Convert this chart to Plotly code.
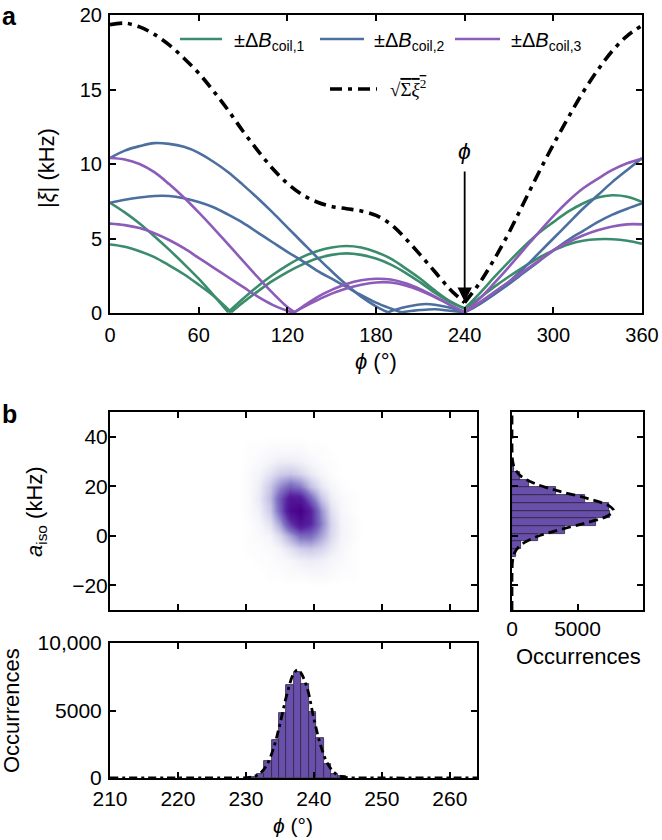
import plotly.graph_objects as go

# ---------------- Panel a data ----------------
GA_PHI = [0, 10, 20, 30, 40, 50, 60, 70, 80, None,
          80, 90, 100, 110, 120, 130, 140, 150, 160, 170, 180, 190, 200, 210, 220, 230, 240, None,
          240, 250, 260, 270, 280, 290, 300, 310, 320, 330, 340, 350, 360]
GA_VAL = [7.4, 6.75, 6.0, 5.15, 4.25, 3.3, 2.3, 1.2, 0.05, None,
          0.05, 0.95, 1.8, 2.55, 3.2, 3.75, 4.15, 4.4, 4.5, 4.4, 4.1, 3.65, 3.0, 2.3, 1.5, 0.8, 0.3, None,
          0.3, 1.3, 2.4, 3.45, 4.45, 5.35, 6.1, 6.8, 7.35, 7.75, 7.9, 7.8, 7.45]

GB_PHI = [0, 10, 20, 30, 40, 50, 60, 70, 82, None,
          82, 90, 100, 110, 120, 130, 140, 150, 160, 170, 180, 190, 200, 210, 220, 230, 240, None,
          240, 250, 260, 270, 280, 290, 300, 310, 320, 330, 340, 350, 360]
GB_VAL = [4.6, 4.45, 4.15, 3.75, 3.2, 2.6, 1.9, 1.15, 0.05, None,
          0.05, 0.7, 1.45, 2.15, 2.75, 3.25, 3.65, 3.9, 4.0, 3.9, 3.65, 3.25, 2.7, 2.05, 1.35, 0.75, 0.3, None,
          0.3, 1.0, 1.75, 2.45, 3.1, 3.7, 4.2, 4.6, 4.85, 4.95, 4.95, 4.85, 4.65]

B1_PHI = [0, 10, 20, 30, 40, 50, 60, 70, 80, 90, 100, 110, 120, 130, 140, 150, 160, 170, 180, 188, None,
          188, 200, 214, 228, 240, None,
          240, 250, 260, 270, 280, 290, 300, 310, 320, 330, 340, 350, 360]
B1_VAL = [10.4, 10.9, 11.2, 11.4, 11.35, 11.15, 10.75, 10.15, 9.45, 8.6, 7.7, 6.75, 5.75, 4.75, 3.75, 2.8, 1.9, 1.1, 0.45, 0.05, None,
          0.05, 0.4, 0.6, 0.4, 0.05, None,
          0.05, 0.6, 1.3, 2.1, 3.0, 4.0, 5.0, 6.0, 7.0, 7.9, 8.8, 9.6, 10.4]

B2_PHI = [0, 10, 20, 30, 40, 50, 60, 70, 80, 90, 100, 110, 120, 130, 140, 150, 160, 170, 180, 190, 197, None,
          197, 210, 220, 230, 240, None,
          240, 250, 260, 270, 280, 290, 300, 310, 320, 330, 340, 350, 360]
B2_VAL = [7.4, 7.6, 7.75, 7.85, 7.85, 7.7, 7.45, 7.1, 6.6, 6.05, 5.4, 4.75, 4.1, 3.5, 2.85, 2.3, 1.75, 1.2, 0.7, 0.3, 0.05, None,
          0.05, 0.2, 0.25, 0.15, 0.05, None,
          0.05, 0.6, 1.25, 1.95, 2.7, 3.45, 4.2, 4.9, 5.5, 6.1, 6.6, 7.0, 7.35]

P1_PHI = [0, 10, 20, 30, 40, 50, 60, 70, 80, 90, 100, 110, 120, 125, None,
          125, 130, 140, 150, 160, 170, 180, 190, 200, 210, 220, 230, 240, None,
          240, 250, 260, 270, 280, 290, 300, 310, 320, 330, 340, 350, 360]
P1_VAL = [10.4, 10.3, 10.0, 9.45, 8.65, 7.75, 6.75, 5.7, 4.6, 3.5, 2.4, 1.35, 0.4, 0.05, None,
          0.05, 0.4, 1.05, 1.55, 1.95, 2.2, 2.3, 2.25, 2.0, 1.6, 1.1, 0.55, 0.05, None,
          0.05, 0.95, 2.0, 3.1, 4.25, 5.4, 6.5, 7.5, 8.35, 9.0, 9.6, 10.05, 10.35]

P2_PHI = [0, 10, 20, 30, 40, 50, 60, 70, 80, 90, 100, 110, 120, 124, None,
          124, 130, 140, 150, 160, 170, 180, 190, 200, 210, 220, 230, 240, None,
          240, 250, 260, 270, 280, 290, 300, 310, 320, 330, 340, 350, 360]
P2_VAL = [6.0, 5.9, 5.7, 5.35, 4.9, 4.35, 3.7, 3.05, 2.4, 1.75, 1.1, 0.55, 0.15, 0.02, None,
          0.02, 0.35, 0.85, 1.3, 1.65, 1.9, 2.05, 2.05, 1.85, 1.5, 1.05, 0.55, 0.05, None,
          0.05, 0.7, 1.4, 2.1, 2.8, 3.5, 4.2, 4.75, 5.2, 5.55, 5.8, 5.95, 5.95]

TOT_PHI = [0, 10, 20, 30, 40, 50, 60, 70, 80, 90, 100, 110, 120, 130, 140, 150, 160, 170, 180,
           190, 200, 210, 220, 230, 240, None,
           240, 250, 260, 270, 280, 290, 300, 310, 320, 330, 340, 350, 360]
TOT_VAL = [19.35, 19.45, 19.2, 18.7, 18.0, 17.1, 16.1, 14.9, 13.6, 12.2, 10.9, 9.7, 8.7, 7.95, 7.45, 7.15, 7.0, 6.85, 6.55,
           5.95, 5.0, 3.9, 2.75, 1.6, 0.7, None,
           0.7, 2.0, 3.6, 5.4, 7.4, 9.4, 11.3, 13.1, 14.8, 16.3, 17.6, 18.6, 19.3]

A_XTICKS = [0, 60, 120, 180, 240, 300, 360]
A_YTICKS = [0, 5, 10, 15, 20]
ARROW_PHI = 240

# ---------------- Panel b data ----------------
HM_PHI = [229, 230.5, 232, 233.5, 235, 236.5, 238, 239.5, 241, 242.5, 244, 245.5, 247]
HM_AISO = [-20, -15, -10, -5, 0, 5, 10, 15, 20, 25, 30, 35, 40]
HM_Z = [
    [0, 0, 0, 0, 0, 0, 0, 0, 0, 0, 0, 0, 0],
    [0, 0, 0, 1, 1, 2, 2, 3, 3, 2, 1, 1, 0],
    [0, 0, 1, 1, 2, 3, 5, 6, 5, 3, 2, 1, 0],
    [0, 1, 1, 2, 4, 9, 15, 17, 13, 7, 3, 1, 0],
    [0, 1, 2, 4, 12, 27, 43, 43, 27, 12, 4, 2, 0],
    [0, 1, 3, 9, 28, 61, 85, 71, 37, 13, 4, 2, 0],
    [0, 2, 5, 16, 47, 89, 100, 73, 32, 10, 3, 1, 0],
    [0, 2, 7, 20, 50, 81, 79, 47, 18, 6, 2, 1, 0],
    [0, 2, 6, 17, 34, 46, 38, 20, 8, 3, 1, 0, 0],
    [0, 2, 4, 9, 15, 17, 13, 7, 3, 1, 0, 0, 0],
    [0, 1, 2, 4, 6, 6, 5, 3, 1, 1, 0, 0, 0],
    [0, 1, 1, 2, 2, 2, 2, 1, 1, 0, 0, 0, 0],
    [0, 0, 0, 0, 0, 0, 0, 0, 0, 0, 0, 0, 0],
]

PHI_BIN_CENTERS = [231.05, 232.15, 233.24, 234.33, 235.42, 236.51, 237.6, 238.69, 239.78, 240.87, 241.96, 243.05, 244.14]
PHI_COUNTS = [80, 330, 1240, 2840, 4810, 6860, 7850, 6990, 4880, 3000, 1050, 330, 120]
PHI_BIN_WIDTH = 1.09
PHI_FIT_X = [210, 226, 228, 230, 231, 232, 233, 234, 235, 236, 237, 237.6, 238, 239, 240, 241, 242, 243, 244, 245, 246, 248, 264]
PHI_FIT_Y = [0, 0, 2, 21, 89, 313, 900, 2100, 3980, 6140, 7710, 8000, 7870, 6680, 4400, 2400, 1080, 395, 116, 28, 5, 0, 0]

AISO_BIN_CENTERS = [-6.85, -3.75, -0.65, 2.45, 5.55, 8.65, 11.75, 14.85, 17.95, 21.05, 24.15, 27.25]
AISO_COUNTS = [300, 700, 2000, 4050, 6400, 7450, 7400, 5550, 3340, 1300, 600, 150]
AISO_BIN_WIDTH = 3.1
AISO_FIT_Y = [-30, -20, -15, -10, -7, -4, -1, 2, 5, 8, 10.2, 12, 15, 18, 21, 24, 27, 30, 35, 40, 50]
AISO_FIT_X = [0, 0, 3, 45, 186, 612, 1600, 3320, 5520, 7290, 7750, 7440, 5800, 3600, 1780, 700, 222, 56, 3, 0, 0]

B_PHI_TICKS = [210, 220, 230, 240, 250, 260]
B_AISO_TICKS = [-20, 0, 20, 40]
OCC_TICKS = [0, 5000, 10000]
OCC_TICKTEXT = ["0", "5000", "10,000"]

# ---------------- styling ----------------
W, H = 662, 840
FONT = "Liberation Sans, Arial, Helvetica, sans-serif"
GREEN = "#3b8c6c"
BLUE = "#4c6fa0"
PURPLE = "#8c5cb8"
BAR = "rgb(104,80,170)"
DASHDOT = "12px,6px,4px,6px"


def px_x(p):
    return p / W


def px_y(p):
    return 1 - p / H


fig = go.Figure()

for xs, ys, col in [(GA_PHI, GA_VAL, GREEN), (GB_PHI, GB_VAL, GREEN),
                    (B1_PHI, B1_VAL, BLUE), (B2_PHI, B2_VAL, BLUE),
                    (P1_PHI, P1_VAL, PURPLE), (P2_PHI, P2_VAL, PURPLE)]:
    fig.add_trace(go.Scatter(x=xs, y=ys, mode="lines", connectgaps=False,
                             line=dict(color=col, width=2.6, shape="spline", smoothing=1.0),
                             showlegend=False, xaxis="x", yaxis="y"))

fig.add_trace(go.Scatter(x=TOT_PHI, y=TOT_VAL, mode="lines", connectgaps=False,
                         line=dict(color="black", width=3.6, dash=DASHDOT, shape="spline"),
                         showlegend=False, xaxis="x", yaxis="y"))

# heatmap
fig.add_trace(go.Heatmap(x=HM_PHI, y=HM_AISO, z=HM_Z, zmin=0, zmax=100, zsmooth="best",
                         colorscale=[[0, "rgb(255,255,255)"], [0.03, "rgb(247,247,251)"],
                                     [0.15, "rgb(208,206,234)"], [0.4, "rgb(128,115,196)"],
                                     [0.7, "rgb(88,35,160)"], [1, "rgb(72,0,135)"]],
                         showscale=False, xaxis="x2", yaxis="y2", hoverinfo="skip"))

# right histogram
fig.add_trace(go.Bar(y=AISO_BIN_CENTERS, x=AISO_COUNTS, orientation="h", width=AISO_BIN_WIDTH,
                     marker=dict(color=BAR, line=dict(color="rgb(45,35,70)", width=0.8)),
                     showlegend=False, xaxis="x3", yaxis="y3"))
fig.add_trace(go.Scatter(x=AISO_FIT_X, y=AISO_FIT_Y, mode="lines",
                         line=dict(color="black", width=2.8, dash="9px,5px", shape="spline"),
                         showlegend=False, xaxis="x3", yaxis="y3"))

# bottom histogram
fig.add_trace(go.Bar(x=PHI_BIN_CENTERS, y=PHI_COUNTS, width=PHI_BIN_WIDTH,
                     marker=dict(color=BAR, line=dict(color="rgb(45,35,70)", width=0.8)),
                     showlegend=False, xaxis="x4", yaxis="y4"))
fig.add_trace(go.Scatter(x=PHI_FIT_X, y=PHI_FIT_Y, mode="lines",
                         line=dict(color="black", width=2.8, dash="8px,4px,3px,4px", shape="spline"),
                         showlegend=False, xaxis="x4", yaxis="y4"))


def axis_style(size):
    return dict(showline=True, linecolor="black", linewidth=2, mirror="ticks",
                ticks="inside", ticklen=6, tickwidth=2, tickcolor="black", automargin=False,
                showgrid=False, zeroline=False, tickfont=dict(size=size, color="black", family=FONT))


dom_a_x = [px_x(110), px_x(642)]
dom_a_y = [px_y(313), px_y(15)]
dom_b_x = [px_x(110), px_x(477)]
dom_hm_y = [px_y(610), px_y(412)]
dom_r_x = [px_x(512), px_x(643)]
dom_bot_y = [px_y(778), px_y(643)]

fig.update_layout(
    width=W, height=H, margin=dict(l=0, r=0, t=0, b=0, autoexpand=False),
    paper_bgcolor="white", plot_bgcolor="white",
    font=dict(family=FONT, color="black"),
    bargap=0,
    xaxis=dict(domain=dom_a_x, range=[0, 360], tickvals=A_XTICKS, anchor="y",
               ticklabelstandoff=3, **axis_style(20)),
    yaxis=dict(domain=dom_a_y, range=[0, 20], tickvals=A_YTICKS, anchor="x",
               ticklabelstandoff=2, **axis_style(20)),
    xaxis2=dict(domain=dom_b_x, range=[210, 264], tickvals=B_PHI_TICKS[1:], anchor="y2",
                showticklabels=False, **axis_style(21)),
    yaxis2=dict(domain=dom_hm_y, range=[-30, 50], tickvals=B_AISO_TICKS, anchor="x2",
                ticklabelstandoff=-4, **axis_style(21)),
    xaxis3=dict(domain=dom_r_x, range=[0, 10000], tickvals=OCC_TICKS[:2], anchor="y3",
                ticklabelstandoff=-1, **axis_style(21)),
    yaxis3=dict(domain=dom_hm_y, range=[-30, 50], tickvals=B_AISO_TICKS, anchor="x3",
                showticklabels=False, **axis_style(21)),
    xaxis4=dict(domain=dom_b_x, range=[210, 264], tickvals=B_PHI_TICKS, anchor="y4",
                ticklabelstandoff=1, **axis_style(21)),
    yaxis4=dict(domain=dom_bot_y, range=[0, 10000], tickvals=OCC_TICKS, ticktext=OCC_TICKTEXT,
                anchor="x4", ticklabelstandoff=2, **axis_style(21)),
)

ann = []
shapes = []


def note(xp, yp, text, size, angle=0, xanchor="center", yanchor="middle", family=None):
    f = dict(size=size)
    if family:
        f["family"] = family
    return dict(x=px_x(xp), y=px_y(yp), xref="paper", yref="paper", text=text, textangle=angle,
                xanchor=xanchor, yanchor=yanchor, showarrow=False, font=f)


# panel labels
ann.append(note(0, 0, "<b>a</b>", 25, xanchor="left", yanchor="top"))
ann.append(note(0, 398, "<b>b</b>", 25, xanchor="left", yanchor="top"))
# axis titles
ann.append(note(47, 168, "|<i>ξ</i>| (kHz)", 22, angle=-90))
ann.append(note(376, 361, "<i>ϕ</i> (°)", 22))
ann.append(note(36, 512, "<i>a</i><sub>iso</sub> (kHz)", 22, angle=-90))
ann.append(note(11, 711, "Occurrences", 22, angle=-90))
ann.append(note(293, 839, "<i>ϕ</i> (°)", 21, yanchor="bottom"))
ann.append(note(578, 656, "Occurrences", 22))

# legend (manual)
leg = [(180, 222, 232, GREEN, "1"), (320, 364, 372, BLUE, "2"), (455, 500, 509, PURPLE, "3")]
for x0, x1, xt, col, k in leg:
    shapes.append(dict(type="line", xref="paper", yref="paper", x0=px_x(x0), x1=px_x(x1),
                       y0=px_y(39), y1=px_y(39), line=dict(color=col, width=2.6)))
    ann.append(note(xt, 41, "±Δ<i>B</i><sub>coil," + k + "</sub>", 20, xanchor="left"))
shapes.append(dict(type="line", xref="paper", yref="paper", x0=px_x(330), x1=px_x(377),
                   y0=px_y(89), y1=px_y(89), line=dict(color="black", width=3.4, dash=DASHDOT)))
ann.append(note(388, 88, "√<span style='text-decoration:overline'>Σ<i>ξ</i><sup>2</sup></span>", 19,
                xanchor="left", family="Liberation Serif, serif"))

# arrow at phi
ann.append(dict(x=ARROW_PHI, y=0.75, ax=ARROW_PHI, ay=9.6, xref="x", yref="y", axref="x", ayref="y",
                text="", showarrow=True, arrowhead=2, arrowsize=1.6, arrowwidth=1.8, arrowcolor="black"))
ann.append(dict(x=ARROW_PHI, y=10.9, xref="x", yref="y", text="<i>ϕ</i>", showarrow=False,
                xanchor="center", yanchor="middle", font=dict(size=23)))

fig.update_layout(annotations=ann, shapes=shapes)
fig.write_html("out.html", config={"displayModeBar": False},
               post_script="document.body.style.margin='0px';document.body.style.padding='0px';")
